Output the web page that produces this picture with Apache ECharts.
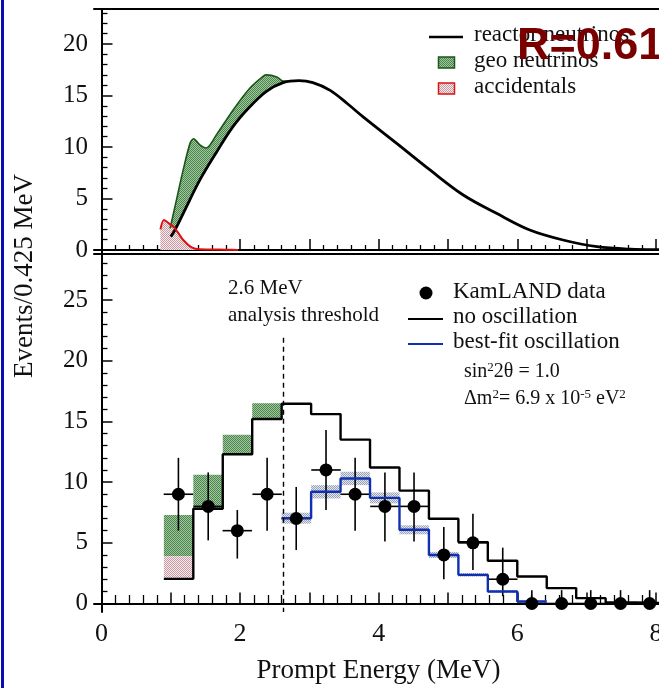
<!DOCTYPE html>
<html><head><meta charset="utf-8">
<script src="https://cdn.jsdelivr.net/npm/echarts@6/dist/echarts.min.js"></script>
<style>html,body{margin:0;padding:0;background:#fff}#c{width:659px;height:688px}</style>
</head><body><div id="c"></div>
<script>
// ---------------- data (top panel: spectra) ----------------
const reactorX = [1.00, 1.06, 1.18, 1.42, 1.66, 1.90, 2.14, 2.38, 2.62, 2.85, 3.05, 3.30, 3.55, 3.78, 4.26, 4.74, 5.22, 5.70, 6.18, 6.66, 7.15, 7.63, 8.10, 8.60];
const reactorY = [1.3, 1.94, 3.56, 6.8, 9.5, 12.0, 13.9, 15.4, 16.25, 16.45, 16.25, 15.5, 14.2, 12.9, 10.35, 7.77, 5.34, 3.56, 1.94, 0.97, 0.32, 0.08, 0.03, 0.02];
const geoTopX = [0.99, 1.06, 1.18, 1.28, 1.33, 1.42, 1.51, 1.66, 1.90, 2.14, 2.34, 2.38, 2.53, 2.62, 2.72];
const geoTopY = [2.1, 4.2, 7.8, 10.4, 10.8, 10.2, 9.9, 11.2, 13.6, 15.7, 16.9, 17.0, 16.8, 16.4, 16.4];
const accX = [0.85, 0.90, 0.97, 1.06, 1.18, 1.30, 1.42, 1.60, 1.80, 1.97];
const accY = [2.0, 2.9, 2.6, 2.1, 0.97, 0.26, 0.06, 0.04, 0.03, 0.0];

// ---------------- data (bottom panel: histograms) ----------------
const binEdges = [0.9, 1.325, 1.75, 2.175, 2.6, 3.025, 3.45, 3.875, 4.3, 4.725, 5.15, 5.575, 6.0, 6.425, 6.85, 7.275, 7.7, 8.125, 8.55];
const noOscillation = [2.03, 7.8, 12.3, 15.2, 16.45, 15.6, 13.5, 11.2, 9.3, 6.98, 5.06, 3.52, 2.22, 1.27, 0.44, 0.08, 0.05, 0.03];
const bestFitFirstBin = 4;
const bestFit = [7.03, 9.2, 10.3, 8.7, 6.07, 4.0, 2.36, 0.99, 0.16];
const bestFitErr = [0.45, 0.55, 0.55, 0.45, 0.37, 0.25, 0.15, 0.1, 0.1];
const geoBinLow = [3.9, 7.8, 12.3, 15.2];
const geoBinHigh = [7.3, 10.6, 13.9, 16.5];
const accBinLow = [2.03];
const accBinHigh = [3.9];
const dataX = [1.11, 1.54, 1.96, 2.39, 2.81, 3.24, 3.66, 4.09, 4.51, 4.94, 5.36, 5.79, 6.21, 6.64, 7.06, 7.49, 7.91];
const dataY = [9, 8, 6, 9, 7, 11, 9, 8, 8, 4, 5, 2, 0, 0, 0, 0, 0];
const errUp = [3.0, 2.8, 1.7, 3.0, 2.6, 3.3, 3.0, 2.8, 2.8, 2.3, 2.4, 2.6, 1.1, 1.1, 1.1, 1.1, 1.1];
const errDown = [3.0, 2.8, 2.3, 3.0, 2.6, 3.3, 3.0, 2.9, 2.9, 2.0, 2.25, 1.4, 0, 0, 0, 0, 0];
const threshold = 2.63;
const thresholdTop = 21.9;

// ---------------- axes ----------------
const xRange = [-0.108, 8.55];
const yTopRange = [-0.39, 23.4];
const yBotRange = [-0.70, 28.79];
const xTickLabels = [0, 2, 4, 6, 8];
const xMajorTicks = [0, 1, 2, 3, 4, 5, 6, 7, 8];
const yTopLabels = [0, 5, 10, 15, 20];
const yBotLabels = [0, 5, 10, 15, 20, 25];
const xMinorTicks = []; for (let i = 0; i <= 43; i++) { const v = Math.round(i * 2) / 10; if (Math.abs(v - Math.round(v)) > 1e-6) xMinorTicks.push(v); }
const yTopMinor = []; for (let v = 1; v <= 23; v++) if (v % 5) yTopMinor.push(v);
const yBotMinor = []; for (let v = 1; v <= 28; v++) if (v % 5) yBotMinor.push(v);

const SERIF = '"Liberation Serif","Times New Roman",serif';
const TXT = '#111';

function pattern(c1, c2) {
  const cv = document.createElement('canvas'); cv.width = 2; cv.height = 2;
  const g = cv.getContext('2d');
  g.fillStyle = c2; g.fillRect(0, 0, 2, 2);
  g.fillStyle = c1; g.fillRect(0, 0, 1, 1); g.fillRect(1, 1, 1, 1);
  return { image: cv, repeat: 'repeat' };
}
const greenPat = pattern('#4a864a', '#a2c6a2');
const pinkPat = pattern('#c99aa3', '#f6ecee');
const grayPat = pattern('#98a0b6', '#e4e7ef');

const chart = echarts.init(document.getElementById('c'), null, { renderer: 'canvas' });

function xAxes(grid, major, labels) {
  return [
    { gridIndex: grid, type: 'value', position: 'bottom', min: xRange[0], max: xRange[1],
      axisLine: { show: true, lineStyle: { color: '#000', width: 2 } },
      axisTick: { show: true, inside: true, length: 11, customValues: xMajorTicks, lineStyle: { color: '#000', width: 1.5 } },
      axisLabel: labels ? { show: true, customValues: xTickLabels, margin: 9, color: TXT, fontSize: 26, fontFamily: SERIF } : { show: false },
      splitLine: { show: false } },
    { gridIndex: grid, type: 'value', position: 'bottom', min: xRange[0], max: xRange[1],
      axisLine: { show: false },
      axisTick: { show: true, inside: true, length: major, customValues: xMinorTicks, lineStyle: { color: '#000', width: 1.3 } },
      axisLabel: { show: false }, splitLine: { show: false } },
    { gridIndex: grid, type: 'value', position: 'top', min: xRange[0], max: xRange[1],
      axisLine: { show: true, lineStyle: { color: '#000', width: 2 } },
      axisTick: { show: false }, axisLabel: { show: false }, splitLine: { show: false } }
  ];
}
function yAxes(grid, range, labels, minor) {
  return [
    { gridIndex: grid, type: 'value', position: 'left', min: range[0], max: range[1],
      axisLine: { show: true, lineStyle: { color: '#000', width: 2 } },
      axisTick: { show: true, inside: true, length: 11, customValues: labels, lineStyle: { color: '#000', width: 1.5 } },
      axisLabel: { show: true, customValues: labels, margin: 6, color: TXT, fontSize: 25, fontFamily: SERIF },
      splitLine: { show: false } },
    { gridIndex: grid, type: 'value', position: 'left', min: range[0], max: range[1],
      axisLine: { show: false },
      axisTick: { show: true, inside: true, length: 6, customValues: minor, lineStyle: { color: '#000', width: 1.3 } },
      axisLabel: { show: false }, splitLine: { show: false } }
  ];
}

const binHalf = (binEdges[1] - binEdges[0]) / 2;
const noOscData = noOscillation.map((v, i) => [binEdges[i], v]).concat([[binEdges[noOscillation.length], noOscillation[noOscillation.length - 1]]]);
const bestFitData = bestFit.map((v, i) => [binEdges[bestFitFirstBin + i], v]).concat([[binEdges[bestFitFirstBin + bestFit.length], bestFit[bestFit.length - 1]]]);
const bandData = bestFit.map((v, i) => [binEdges[bestFitFirstBin + i], binEdges[bestFitFirstBin + i + 1], v - bestFitErr[i], v + bestFitErr[i]]);
const geoBoxData = geoBinLow.map((v, i) => [binEdges[i], binEdges[i + 1], v, geoBinHigh[i]]);
const accBoxData = accBinLow.map((v, i) => [binEdges[i], binEdges[i + 1], v, accBinHigh[i]]);
const errData = dataX.map((x, i) => [x, dataY[i], errDown[i], errUp[i], binHalf]);

function boxRender(fill) {
  return function (params, api) {
    const p0 = api.coord([api.value(0), api.value(3)]);
    const p1 = api.coord([api.value(1), api.value(2)]);
    return { type: 'rect', shape: { x: p0[0], y: p0[1], width: p1[0] - p0[0], height: p1[1] - p0[1] }, style: { fill: fill } };
  };
}

const option = {
  animation: false,
  backgroundColor: '#fff',
  grid: [
    { left: 94, top: 9, width: 600, height: 245, outerBoundsMode: 'none', containLabel: false },
    { left: 94, top: 254, width: 600, height: 358, outerBoundsMode: 'none', containLabel: false }
  ],
  xAxis: xAxes(0, 5, false).concat(xAxes(1, 8.5, true)),
  yAxis: yAxes(0, yTopRange, yTopLabels, yTopMinor).concat(yAxes(1, yBotRange, yBotLabels, yBotMinor)),
  series: [
    // ---- top panel ----
    { type: 'custom', xAxisIndex: 0, yAxisIndex: 0, silent: true, data: [[geoTopX[0], geoTopY[0]]],
      renderItem: function (params, api) {
        const pts = [];
        for (let i = 0; i < geoTopX.length; i++) pts.push(api.coord([geoTopX[i], geoTopY[i]]));
        for (let i = reactorX.length - 1; i >= 0; i--) {
          if (reactorX[i] >= geoTopX[0] && reactorX[i] < geoTopX[geoTopX.length - 1]) pts.push(api.coord([reactorX[i], reactorY[i]]));
        }
        return { type: 'polygon', shape: { points: pts, smooth: 0.3 }, style: { fill: greenPat } };
      } },
    { type: 'line', xAxisIndex: 0, yAxisIndex: 0, name: 'geo neutrinos', data: geoTopX.map((x, i) => [x, geoTopY[i]]),
      smooth: 0.3, showSymbol: false, symbol: 'none', lineStyle: { color: '#1a561a', width: 1.6 } },
    { type: 'line', xAxisIndex: 0, yAxisIndex: 0, name: 'reactor neutrinos', data: reactorX.map((x, i) => [x, reactorY[i]]),
      smooth: 0.35, showSymbol: false, symbol: 'none', lineStyle: { color: '#000', width: 2.8 } },
    { type: 'line', xAxisIndex: 0, yAxisIndex: 0, name: 'accidentals', data: accX.map((x, i) => [x, accY[i]]),
      smooth: 0.25, showSymbol: false, symbol: 'none', lineStyle: { color: '#e01010', width: 2 },
      areaStyle: { color: pinkPat, opacity: 1 } },
    // ---- bottom panel ----
    { type: 'custom', xAxisIndex: 3, yAxisIndex: 2, silent: true, data: geoBoxData, encode: { x: [0, 1], y: [2, 3] }, renderItem: boxRender(greenPat) },
    { type: 'custom', xAxisIndex: 3, yAxisIndex: 2, silent: true, data: accBoxData, encode: { x: [0, 1], y: [2, 3] }, renderItem: boxRender(pinkPat) },
    { type: 'custom', xAxisIndex: 3, yAxisIndex: 2, silent: true, data: bandData, encode: { x: [0, 1], y: [2, 3] }, renderItem: boxRender(grayPat) },
    { type: 'line', xAxisIndex: 3, yAxisIndex: 2, name: 'no oscillation', data: noOscData, step: 'end',
      showSymbol: false, symbol: 'none', lineStyle: { color: '#000', width: 2.4 },
      markLine: { silent: true, symbol: 'none', label: { show: false },
        data: [
          [{ coord: [threshold, thresholdTop], lineStyle: { type: [5, 4], color: '#000', width: 1.4 } }, { coord: [threshold, yBotRange[0]] }],
          { yAxis: 0, lineStyle: { type: 'solid', color: '#000', width: 1.6 } }
        ] } },
    { type: 'line', xAxisIndex: 3, yAxisIndex: 2, name: 'best-fit oscillation', data: bestFitData, step: 'end',
      showSymbol: false, symbol: 'none', lineStyle: { color: '#1030b0', width: 2.4 } },
    { type: 'custom', xAxisIndex: 3, yAxisIndex: 2, silent: true, data: errData, encode: { x: 0, y: 1 },
      renderItem: function (params, api) {
        const x = api.value(0), y = api.value(1), lo = api.value(2), hi = api.value(3), hw = api.value(4);
        const a = api.coord([x, y - lo]), b = api.coord([x, y + hi]);
        const c = api.coord([x - hw, y]), d = api.coord([x + hw, y]);
        return { type: 'group', children: [
          { type: 'line', shape: { x1: a[0], y1: a[1], x2: b[0], y2: b[1] }, style: { stroke: '#000', lineWidth: 1.6 } },
          { type: 'line', shape: { x1: c[0], y1: c[1], x2: d[0], y2: d[1] }, style: { stroke: '#000', lineWidth: 1.6 } }
        ] };
      } },
    { type: 'scatter', xAxisIndex: 3, yAxisIndex: 2, name: 'KamLAND data', data: dataX.map((x, i) => [x, dataY[i]]),
      symbol: 'circle', symbolSize: 13, itemStyle: { color: '#000', opacity: 1 }, z: 5 }
  ],
  graphic: [
    { type: 'rect', shape: { x: 1, y: 0, width: 3, height: 688 }, style: { fill: '#0a0ab8' }, z: 100 },
    // top legend
    { type: 'line', shape: { x1: 429, y1: 37, x2: 463, y2: 37 }, style: { stroke: '#000', lineWidth: 2.5 }, z: 100 },
    { type: 'text', x: 474, y: 35, style: { text: 'reactor neutrinos', fill: TXT, fontSize: 23, fontFamily: SERIF, textAlign: 'left', textVerticalAlign: 'middle' }, z: 100 },
    { type: 'rect', shape: { x: 438.5, y: 57, width: 16, height: 11 }, style: { fill: greenPat, stroke: '#1a561a', lineWidth: 1.5 }, z: 100 },
    { type: 'text', x: 474, y: 61, style: { text: 'geo neutrinos', fill: TXT, fontSize: 23, fontFamily: SERIF, textAlign: 'left', textVerticalAlign: 'middle' }, z: 100 },
    { type: 'rect', shape: { x: 438.5, y: 83, width: 16, height: 11 }, style: { fill: pinkPat, stroke: '#e01010', lineWidth: 1.5 }, z: 100 },
    { type: 'text', x: 474, y: 87, style: { text: 'accidentals', fill: TXT, fontSize: 23, fontFamily: SERIF, textAlign: 'left', textVerticalAlign: 'middle' }, z: 100 },
    { type: 'text', x: 517, y: 47, style: { text: 'R=0.61', fill: '#7a0000', fontSize: 45, fontWeight: 'bold', fontFamily: '"Liberation Sans",Arial,sans-serif', textAlign: 'left', textVerticalAlign: 'middle' }, z: 110 },
    // bottom legend
    { type: 'circle', shape: { cx: 426, cy: 293, r: 6.5 }, style: { fill: '#000' }, z: 100 },
    { type: 'text', x: 453, y: 292, style: { text: 'KamLAND data', fill: TXT, fontSize: 23, fontFamily: SERIF, textAlign: 'left', textVerticalAlign: 'middle' }, z: 100 },
    { type: 'line', shape: { x1: 408, y1: 319, x2: 443, y2: 319 }, style: { stroke: '#000', lineWidth: 2.2 }, z: 100 },
    { type: 'text', x: 453, y: 317, style: { text: 'no oscillation', fill: TXT, fontSize: 23, fontFamily: SERIF, textAlign: 'left', textVerticalAlign: 'middle' }, z: 100 },
    { type: 'line', shape: { x1: 408, y1: 344, x2: 443, y2: 344 }, style: { stroke: '#1030b0', lineWidth: 2.2 }, z: 100 },
    { type: 'text', x: 453, y: 342, style: { text: 'best-fit oscillation', fill: TXT, fontSize: 23, fontFamily: SERIF, textAlign: 'left', textVerticalAlign: 'middle' }, z: 100 },
    { type: 'text', x: 464, y: 372, style: { text: 'sin{s|2}2θ = 1.0', fill: TXT, fontSize: 20, fontFamily: SERIF, lineHeight: 22, textAlign: 'left', textVerticalAlign: 'middle',
      rich: { s: { fontSize: 13, fontFamily: SERIF, lineHeight: 13, verticalAlign: 'top', fill: TXT } } }, z: 100 },
    { type: 'text', x: 464, y: 399, style: { text: 'Δm{s|2}= 6.9 x 10{s|-5} eV{s|2}', fill: TXT, fontSize: 20, fontFamily: SERIF, lineHeight: 22, textAlign: 'left', textVerticalAlign: 'middle',
      rich: { s: { fontSize: 13, fontFamily: SERIF, lineHeight: 13, verticalAlign: 'top', fill: TXT } } }, z: 100 },
    { type: 'text', x: 228, y: 288, style: { text: '2.6 MeV', fill: TXT, fontSize: 21, fontFamily: SERIF, textAlign: 'left', textVerticalAlign: 'middle' }, z: 100 },
    { type: 'text', x: 228, y: 315, style: { text: 'analysis threshold', fill: TXT, fontSize: 21, fontFamily: SERIF, textAlign: 'left', textVerticalAlign: 'middle' }, z: 100 },
    // axis titles
    { type: 'text', x: 378.5, y: 671, style: { text: 'Prompt Energy (MeV)', fill: TXT, fontSize: 27, fontFamily: SERIF, textAlign: 'center', textVerticalAlign: 'middle' }, z: 100 },
    { type: 'text', x: 25, y: 276, rotation: Math.PI / 2, style: { text: 'Events/0.425 MeV', fill: TXT, fontSize: 27, fontFamily: SERIF, textAlign: 'center', textVerticalAlign: 'middle' }, z: 100 }
  ]
};
chart.setOption(option);
</script>
</body></html>
